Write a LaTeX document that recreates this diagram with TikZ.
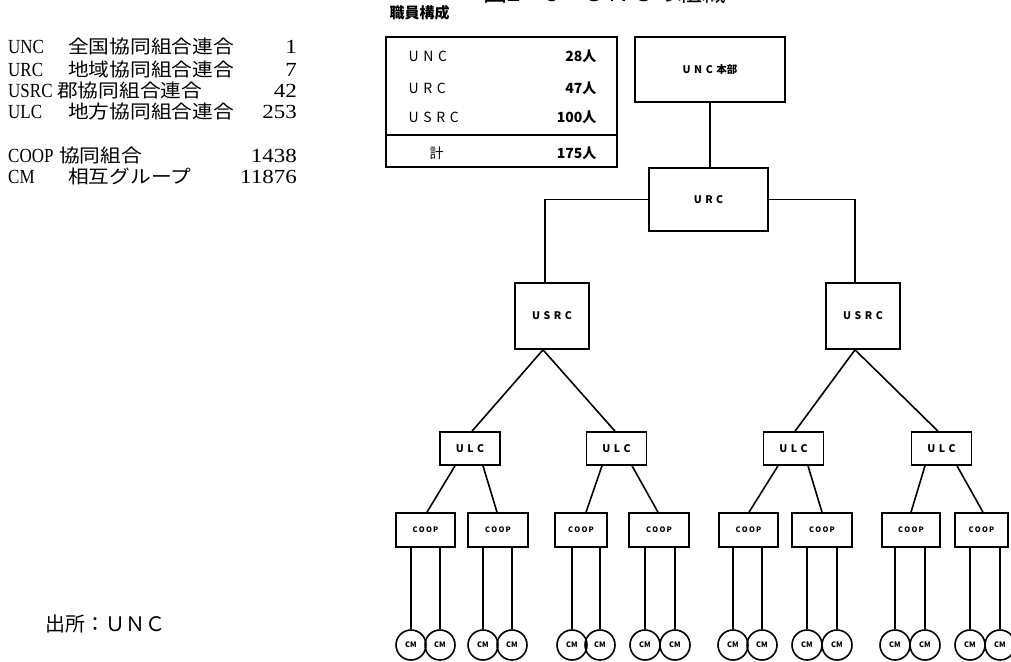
\documentclass[tikz,border=0pt]{standalone}
\usepackage{fontspec}
\setmainfont{Liberation Serif}
\newfontfamily\jp{Noto Sans CJK JP}
\newcommand{\cond}[1]{\scalebox{0.85}[1]{#1}}
\newcommand{\wjp}[1]{\scalebox{1.12}[1]{#1}}
\newcommand{\wnum}[1]{\scalebox{1.15}[1]{#1}}
\begin{document}
\begin{tikzpicture}[x=1pt,y=-1pt,
  ob/.style={draw,line width=1.6pt,inner sep=0pt,font=\jp\bfseries\fontsize{10.5}{10.5}\selectfont},
  cp/.style={draw,line width=1.6pt,inner sep=0pt,minimum height=34,font=\jp\bfseries\fontsize{7.5}{7.5}\selectfont},
  cmnode/.style={draw,circle,line width=1.6pt,inner sep=0pt,minimum size=30,font=\jp\bfseries\fontsize{7.5}{7.5}\selectfont},
  ln/.style={line width=1.6pt},
  ab/.style={anchor=base west,inner sep=0pt,font=\fontsize{20}{20}\selectfont},
  jt/.style={anchor=base west,inner sep=0pt,font=\jp\fontsize{18.5}{18.5}\selectfont},
  nm/.style={anchor=base east,inner sep=0pt,font=\fontsize{20}{20}\selectfont},
  tl/.style={anchor=base west,font=\jp\fontsize{14}{14}\selectfont},
  tn/.style={anchor=base east,font=\jp\bfseries\fontsize{14}{14}\selectfont}]
\useasboundingbox (0,0) rectangle (1011,661);

% title (cut at top)
\node[anchor=base,font=\jp\fontsize{24}{24}\selectfont] (title) at (605,2) {図2－8　ＵＮＣの組織};

% left legend
\node[ab] (a1) at (8,54) {\cond{UNC}};  \node[jt] (j1) at (68,54) {\wjp{全国協同組合連合}}; \node[nm] (n1) at (297,54) {\wnum{1}};
\node[ab] (a2) at (8,76) {\cond{URC}};  \node[jt] (j2) at (68,76) {\wjp{地域協同組合連合}}; \node[nm] (n2) at (297,76) {\wnum{7}};
\node[ab] (a3) at (8,97) {\cond{USRC}}; \node[jt] (j3) at (57,97) {\wjp{郡協同組合連合}};   \node[nm] (n3) at (297,97) {\wnum{42}};
\node[ab] (a4) at (8,118) {\cond{ULC}}; \node[jt] (j4) at (68,118) {\wjp{地方協同組合連合}}; \node[nm] (n4) at (297,118) {\wnum{253}};
\node[ab] (a5) at (8,162) {\cond{COOP}}; \node[jt] (j5) at (59,162) {\wjp{協同組合}};       \node[nm] (n5) at (297,162) {\wnum{1438}};
\node[ab] (a6) at (8,183) {\cond{CM}};  \node[jt] (j6) at (68,183) {\wjp{相互グループ}};     \node[nm] (n6) at (297,183) {\wnum{11876}};

\node[anchor=base west,font=\jp\fontsize{20}{20}\selectfont] (src) at (42,631) {出所：ＵＮＣ};

% staff table
\node[anchor=base west,font=\jp\bfseries\fontsize{15}{15}\selectfont] (thead) at (386,19) {職員構成};
\node[draw,line width=1.6pt,minimum width=231,minimum height=130,inner sep=0pt] (tbl) at (501.5,102) {};
\draw[ln] (tbl.west |- 0,135) -- (tbl.east |- 0,135);
\node[tl] (t1) at (405,62) {U\,\,N\,\,C};   \node[tn] (v1) at (600,62) {28人};
\node[tl] (t2) at (405,93) {U\,\,R\,\,C};   \node[tn] (v2) at (600,93) {47人};
\node[tl] (t3) at (405,122) {U\,\,S\,\,R\,\,C}; \node[tn] (v3) at (600,122) {100人};
\node[tl] (t4) at (426,158) {計};          \node[tn] (v4) at (600,158) {175人};

% org chart
\node[ob,minimum width=150,minimum height=65] (unc) at (710,69.5) {U\,\,N\,\,C\,\,本部};
\node[ob,minimum width=119,minimum height=63] (urc) at (708.5,199.5) {U\,\,R\,\,C};
\node[ob,minimum width=74,minimum height=66] (usrcL) at (552,316) {U\,\,S\,\,R\,\,C};
\node[ob,minimum width=74,minimum height=66] (usrcR) at (863,316) {U\,\,S\,\,R\,\,C};
\draw[ln] (unc.south) -- (unc.south |- urc.north);
\draw[ln] (urc.west) -| ([xshift=-7pt]usrcL.north);
\draw[ln] (urc.east) -| ([xshift=-8pt]usrcR.north);

\foreach \n/\x in {ulc1/470,ulc2/616.5,ulc3/793.5,ulc4/941.5}
  \node[ob,minimum width=60,minimum height=33] (\n) at (\x,448.5) {U\,\,L\,\,C};
\draw[ln] ([xshift=2pt]ulc1.north) -- ([xshift=-9pt]usrcL.south) -- ([xshift=-1.5pt]ulc2.north);
\draw[ln] ([xshift=1.5pt]ulc3.north) -- ([xshift=-8pt]usrcR.south) -- ([xshift=-3.5pt]ulc4.north);

\foreach \n/\x/\w in {c1/425.5/59,c2/498/60,c3/581/52,c4/659/60,c5/748.5/59,c6/822/60,c7/911/58,c8/981.5/53}
  \node[cp,minimum width=\w] (\n) at (\x,530) {C\,O\,O\,P};

\draw[ln] ([xshift=-15pt]ulc1.south) -- ([xshift=1.5pt]c1.north);
\draw[ln] ([xshift=13pt]ulc1.south) -- ([xshift=-1pt]c2.north);
\draw[ln] ([xshift=-14.5pt]ulc2.south) -- ([xshift=5pt]c3.north);
\draw[ln] ([xshift=15.5pt]ulc2.south) -- ([xshift=-1pt]c4.north);
\draw[ln] ([xshift=-15.5pt]ulc3.south) -- ([xshift=0.5pt]c5.north);
\draw[ln] ([xshift=14.5pt]ulc3.south) -- (c6.north);
\draw[ln] ([xshift=-16.5pt]ulc4.south) -- (c7.north);
\draw[ln] ([xshift=15.5pt]ulc4.south) -- ([xshift=1.5pt]c8.north);

\foreach \p/\xa/\xb in {c1/411/440,c2/483/512,c3/572/600,c4/645/675,c5/733/762,c6/807/837,c7/895/925,c8/970/1000}{
  \node[cmnode] (\p a) at (\xa,645) {CM};
  \node[cmnode] (\p b) at (\xb,645) {CM};
  \draw[ln] (\p a.north) -- (\p a.north |- \p.south);
  \draw[ln] (\p b.north) -- (\p b.north |- \p.south);
}
\end{tikzpicture}
\end{document}
